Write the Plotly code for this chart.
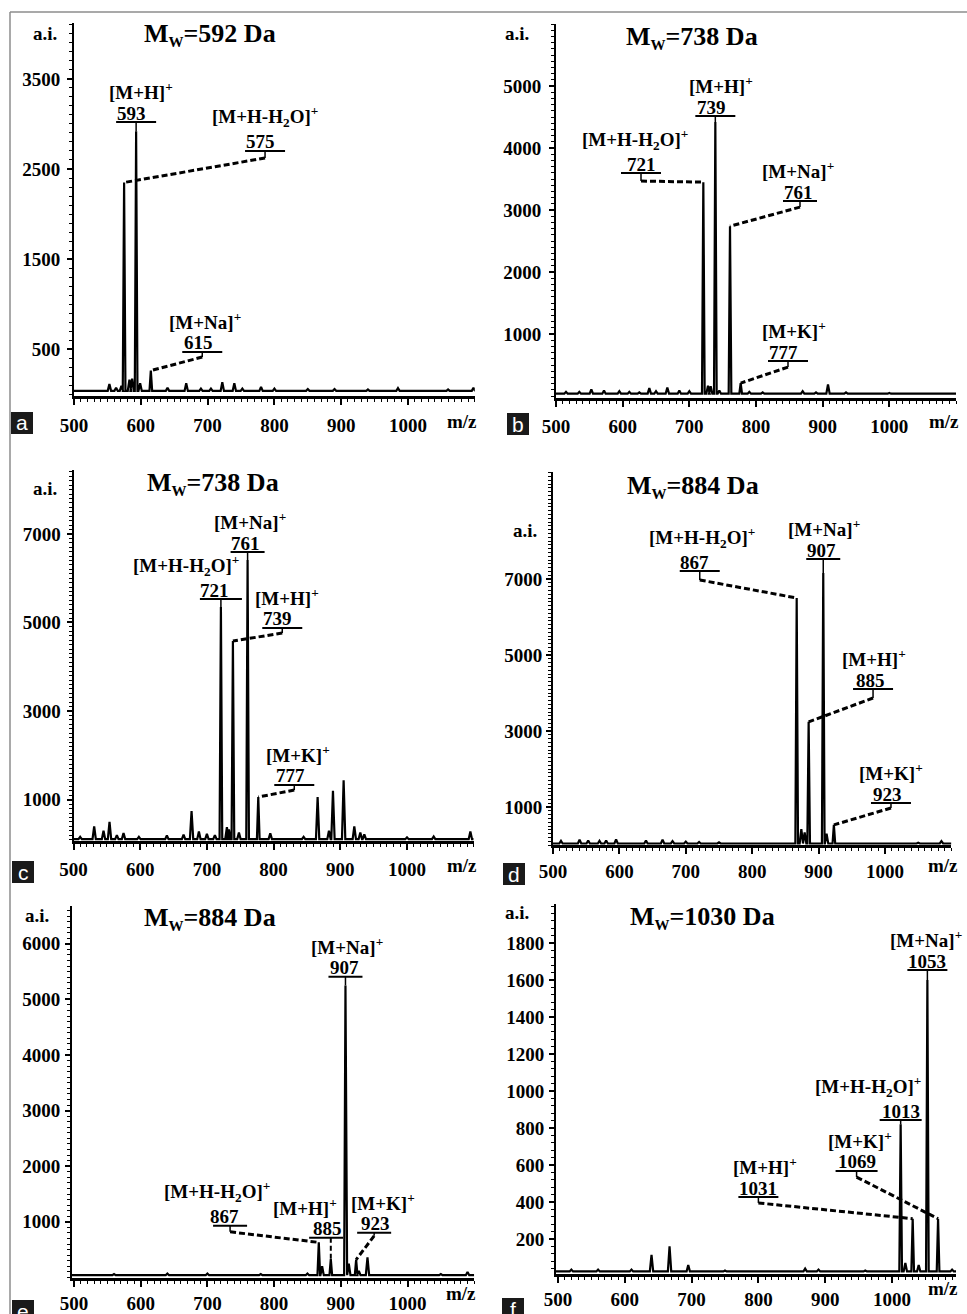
import plotly.graph_objects as go

FIG_W, FIG_H = 967, 1314
SERIF = "Liberation Serif"

# ---------------- data (m/z, intensity a.i.) ----------------
X_TICKS = [500, 600, 700, 800, 900, 1000]

# panel a  (Mw = 592 Da)
a_peak_mz = [575, 593, 615]
a_peak_int = [2350, 2920, 260]
a_noise_mz = [553, 563, 571, 583, 587, 599, 640, 668, 690, 705, 722, 740, 752, 780, 800, 850, 890, 940, 985, 1060, 1098]
a_noise_int = [110, 70, 90, 160, 170, 120, 70, 120, 60, 60, 130, 120, 60, 80, 60, 55, 55, 50, 65, 50, 70]
a_baseline = 35
a_yticks = [500, 1500, 2500, 3500]

# panel b  (Mw = 738 Da)
b_peak_mz = [721, 739, 761, 777]
b_peak_int = [3450, 4420, 2740, 210]
b_noise_mz = [515, 535, 553, 572, 595, 610, 625, 640, 650, 667, 685, 700, 728, 732, 745, 790, 810, 870, 890, 908, 935, 1000]
b_noise_int = [70, 70, 110, 90, 80, 70, 60, 130, 80, 140, 90, 80, 170, 160, 90, 70, 60, 80, 60, 190, 60, 50]
b_baseline = 40
b_yticks = [1000, 2000, 3000, 4000, 5000]

# panel c  (Mw = 738 Da)
c_peak_mz = [721, 739, 761, 777]
c_peak_int = [5350, 4580, 6410, 1060]
c_noise_mz = [510, 531, 545, 554, 565, 575, 598, 640, 665, 677, 688, 700, 712, 730, 733, 748, 795, 845, 866, 883, 889, 905, 921, 930, 936, 1000, 1040, 1095]
c_noise_int = [160, 400, 300, 500, 200, 250, 160, 190, 210, 745, 280, 230, 200, 380, 330, 260, 240, 160, 1060, 300, 1200, 1440, 400, 260, 220, 150, 170, 280]
c_baseline = 110
c_yticks = [1000, 3000, 5000, 7000]

# panel d  (Mw = 884 Da)
d_peak_mz = [867, 885, 907, 923]
d_peak_int = [6500, 3240, 7160, 530]
d_noise_mz = [512, 540, 553, 570, 580, 595, 640, 665, 680, 700, 720, 750, 874, 879, 912, 1050, 1085]
d_noise_int = [110, 140, 120, 110, 120, 150, 120, 140, 100, 90, 80, 70, 420, 330, 300, 60, 100]
d_baseline = 40
d_yticks = [1000, 3000, 5000, 7000]

# panel e  (Mw = 884 Da)
e_peak_mz = [867, 885, 907, 923]
e_peak_int = [630, 330, 5250, 320]
e_noise_mz = [560, 640, 700, 780, 850, 872, 912, 927, 940, 1050, 1090]
e_noise_int = [60, 70, 70, 60, 70, 200, 250, 120, 360, 60, 100]
e_baseline = 40
e_yticks = [1000, 2000, 3000, 4000, 5000, 6000]

# panel f  (Mw = 1030 Da)
f_peak_mz = [1013, 1031, 1053, 1069]
f_peak_int = [820, 310, 1600, 310]
f_noise_mz = [520, 560, 610, 640, 667, 695, 750, 870, 890, 960, 1020, 1040, 1090]
f_noise_int = [35, 35, 35, 115, 160, 60, 30, 40, 35, 30, 70, 60, 35]
f_baseline = 25
f_yticks = [200, 400, 600, 800, 1000, 1200, 1400, 1600, 1800]

ION_H = "[M+H]<sup>+</sup>"
ION_H2O = "[M+H-H<sub>2</sub>O]<sup>+</sup>"
ION_NA = "[M+Na]<sup>+</sup>"
ION_K = "[M+K]<sup>+</sup>"

panel_letters = ["a", "b", "c", "d", "e", "f"]
panel_mw = ["592", "738", "738", "884", "884", "1030"]

# ---------------- layout geometry (pixels) ----------------
GEOM = [
    dict(x0=74, x1=474.8, xr=[500, 1100], yb=396, yt=23, yr=[-22, 4122], ytk=a_yticks, ymin=100, xstand=4, ystand=3),
    dict(x0=556, x1=956, xr=[500, 1100], yb=398, yt=24, yr=[-30, 6000], ytk=b_yticks, ymin=100, xstand=3, ystand=4),
    dict(x0=73.5, x1=473.7, xr=[500, 1100], yb=841, yt=470, yr=[68, 8442], ytk=c_yticks, ymin=100, xstand=3, ystand=2),
    dict(x0=553, x1=951.4, xr=[500, 1100], yb=845, yt=472, yr=[0, 9816], ytk=d_yticks, ymin=100, xstand=1, ystand=0),
    dict(x0=72, x1=474.2, xr=[497, 1100], yb=1278, yt=906, yr=[-10, 6680], ytk=e_yticks, ymin=100, xstand=0, ystand=1),
    dict(x0=556, x1=956.1, xr=[497, 1096], yb=1274, yt=904, yr=[11, 2011], ytk=f_yticks, ymin=40, xstand=0, ystand=1),
]

SPECTRA = [
    (a_peak_mz, a_peak_int, a_noise_mz, a_noise_int, a_baseline),
    (b_peak_mz, b_peak_int, b_noise_mz, b_noise_int, b_baseline),
    (c_peak_mz, c_peak_int, c_noise_mz, c_noise_int, c_baseline),
    (d_peak_mz, d_peak_int, d_noise_mz, d_noise_int, d_baseline),
    (e_peak_mz, e_peak_int, e_noise_mz, e_noise_int, e_baseline),
    (f_peak_mz, f_peak_int, f_noise_mz, f_noise_int, f_baseline),
]

# label placement: (ion, peak index, line centre m/z, line level, tick end level, mode, half width px, ion dx, num dx)
LABELS = [
    [(ION_H, 1, 593, 3022, None, "direct", 20, 5, -5),
     (ION_H2O, 0, 786, 2700, 2622, "dash", 20, 0, -5),
     (ION_NA, 2, 692, 467, 411, "dash", 20, 3, -4)],
    [(ION_H, 1, 739, 4516, None, "direct", 20, 6, -4),
     (ION_H2O, 0, 627.5, 3597, 3468, "dash", 20, -6, 0),
     (ION_NA, 2, 866, 3145, 3048, "dash", 17, -2, -2),
     (ION_K, 3, 848, 565, 468, "dash", 20, 6, -5)],
    [(ION_NA, 2, 761, 6591, None, "direct", 17, 2, -2),
     (ION_H2O, 0, 721, 5530, None, "direct", 21, -35, -6),
     (ION_H, 1, 813, 4876, 4763, "dash", 20, 5, -5),
     (ION_K, 3, 831, 1332, 1219, "dash", 20, 4, -4)],
    [(ION_H2O, 0, 721, 7210, 6974, "dash", 20, 2, -5),
     (ION_NA, 2, 907, 7526, None, "direct", 17, 1, -2),
     (ION_H, 1, 982, 4105, 3868, "dash", 20, 1, -3),
     (ION_K, 3, 1009, 1105, 974, "dash", 20, 0, -3)],
    [(ION_NA, 2, 907, 5406, None, "direct", 17, 2, -1),
     (ION_H2O, 0, 734, 928, 820, "dash", 17, -13, -6),
     (ION_H, 1, 878, 712, None, "vdash", 17, -21, 1),
     (ION_K, 3, 950, 802, 748, "dash", 17, 9, 1)],
    [(ION_NA, 2, 1053, 1654, None, "direct", 20, -1, 0),
     (ION_H2O, 0, 1013, 843, None, "direct", 21, -33, 0),
     (ION_K, 3, 947, 568, 535, "dash", 21, 3, 0),
     (ION_H, 1, 800, 427, 395, "dash", 20, 7, 0)],
]

# text positions in pixels
AI_POS = [(45, 33), (517, 33), (45, 488), (525, 530), (37, 915), (517, 912)]
TITLE_POS = [(210, 35), (692, 37), (213, 483), (693, 487), (210, 918), (702, 917)]
MZ_POS = [(462, 421), (944, 421), (462, 865), (943, 865), (461, 1293), (943, 1288)]
BOX_POS = [(11, 412), (507, 413), (12, 861), (503, 863), (12, 1300), (502, 1298)]


def px(x):
    return x / FIG_W


def py(y):
    return 1 - y / FIG_H


def build_spectrum(pk_mz, pk_int, nz_mz, nz_int, base, lo, hi):
    pts = [(m, h, 2.0) for m, h in zip(pk_mz, pk_int)] + [(m, h, 2.5) for m, h in zip(nz_mz, nz_int)]
    pts.sort()
    xs, ys = [lo], [base]
    for m, h, w in pts:
        xs += [m - w, m, m + w]
        ys += [base, h, base]
    xs.append(hi)
    ys.append(base)
    return xs, ys


fig = go.Figure()
layout = {}
annotations = []
shapes = []
tickfont = dict(family=SERIF, size=19, color="black", weight="bold")
labfont = dict(family=SERIF, size=19, color="black", weight="bold")

for i, (g, spec) in enumerate(zip(GEOM, SPECTRA), start=1):
    sfx = "" if i == 1 else str(i)
    xa, ya = "x" + sfx, "y" + sfx
    xs, ys = build_spectrum(*spec, g["xr"][0], g["xr"][1])
    fig.add_trace(go.Scatter(x=xs, y=ys, mode="lines", line=dict(color="black", width=2.2),
                             xaxis=xa, yaxis=ya, hoverinfo="skip", showlegend=False))
    layout["xaxis" + sfx] = dict(
        domain=[px(g["x0"]), px(g["x1"])], range=g["xr"], anchor=ya, automargin=False,
        showline=True, linecolor="black", linewidth=2.5, showgrid=False, zeroline=False,
        tickmode="array", tickvals=X_TICKS, ticktext=[str(v) for v in X_TICKS],
        ticks="outside", ticklen=6, tickwidth=1.5, tickcolor="black",
        ticklabelstandoff=g["xstand"], tickfont=tickfont,
        minor=dict(tickmode="linear", tick0=0, dtick=10, ticks="outside", ticklen=3, tickwidth=1, tickcolor="black"),
    )
    layout["yaxis" + sfx] = dict(
        domain=[py(g["yb"]), py(g["yt"])], range=g["yr"], anchor=xa, automargin=False,
        showline=True, linecolor="black", linewidth=2, showgrid=False, zeroline=False,
        tickmode="array", tickvals=g["ytk"], ticktext=[str(v) for v in g["ytk"]],
        ticks="outside", ticklen=5, tickwidth=1.5, tickcolor="black",
        ticklabelstandoff=g["ystand"], tickfont=tickfont,
        minor=dict(tickmode="linear", tick0=0, dtick=g["ymin"], ticks="outside", ticklen=3, tickwidth=1, tickcolor="black"),
    )

    pk_mz, pk_int = spec[0], spec[1]
    for ion, k, xc, lv, tv, mode, hw, idx, ndx in LABELS[i - 1]:
        pm, ph = pk_mz[k], pk_int[k]
        shapes.append(dict(type="line", xref=xa, yref=ya, xsizemode="pixel", xanchor=xc,
                           x0=-hw, x1=hw, y0=lv, y1=lv, line=dict(color="black", width=2)))
        if mode == "direct":
            shapes.append(dict(type="line", xref=xa, yref=ya, x0=pm, x1=pm, y0=lv, y1=ph,
                               line=dict(color="black", width=1.5)))
        elif mode == "dash":
            shapes.append(dict(type="line", xref=xa, yref=ya, x0=xc, x1=xc, y0=lv, y1=tv,
                               line=dict(color="black", width=1.5)))
            shapes.append(dict(type="line", xref=xa, yref=ya, x0=xc, x1=pm, y0=tv, y1=ph,
                               line=dict(color="black", width=3, dash="6px,3px")))
        else:
            shapes.append(dict(type="line", xref=xa, yref=ya, x0=pm, x1=pm, y0=lv, y1=ph,
                               line=dict(color="black", width=2, dash="5px,3px")))
        ion_dy = 34 if ion == ION_H2O else 31
        annotations.append(dict(x=xc, y=lv, xref=xa, yref=ya, text=str(pm), showarrow=False,
                                xanchor="center", yanchor="middle", xshift=ndx, yshift=9, font=labfont))
        annotations.append(dict(x=xc, y=lv, xref=xa, yref=ya, text=ion, showarrow=False,
                                xanchor="center", yanchor="middle", xshift=idx, yshift=ion_dy, font=labfont))

for i in range(6):
    ax, ay = AI_POS[i]
    annotations.append(dict(x=px(ax), y=py(ay), xref="paper", yref="paper", text="a.i.", showarrow=False,
                            xanchor="center", yanchor="middle", font=labfont))
    tx, ty = TITLE_POS[i]
    annotations.append(dict(x=px(tx), y=py(ty), xref="paper", yref="paper",
                            text="M<sub><span style='font-size:15px'>W</span></sub>=" + panel_mw[i] + " Da",
                            showarrow=False, xanchor="center", yanchor="middle",
                            font=dict(family=SERIF, size=26, color="black", weight="bold")))
    mx, my = MZ_POS[i]
    annotations.append(dict(x=px(mx), y=py(my), xref="paper", yref="paper", text="m/z", showarrow=False,
                            xanchor="center", yanchor="middle", font=labfont))
    bx, by = BOX_POS[i]
    shapes.append(dict(type="rect", xref="paper", yref="paper", x0=px(bx), x1=px(bx + 22),
                       y0=py(by + 22), y1=py(by), fillcolor="#1a1a1a", line=dict(width=0)))
    annotations.append(dict(x=px(bx + 11), y=py(by + 11), xref="paper", yref="paper", text=panel_letters[i],
                            showarrow=False, xanchor="center", yanchor="middle",
                            font=dict(family="Liberation Sans", size=21, color="white")))

shapes.append(dict(type="line", xref="paper", yref="paper", x0=px(10), x1=1, y0=py(12), y1=py(12),
                   line=dict(color="#8c8c8c", width=1.5)))
shapes.append(dict(type="line", xref="paper", yref="paper", x0=px(10), x1=px(10), y0=py(12), y1=0,
                   line=dict(color="#8c8c8c", width=1.5)))

fig.update_layout(
    width=FIG_W, height=FIG_H, margin=dict(l=0, r=0, t=0, b=0, pad=0, autoexpand=False),
    paper_bgcolor="white", plot_bgcolor="white", showlegend=False,
    annotations=annotations, shapes=shapes, **layout,
)

fig.write_html("out.html", config={"displayModeBar": False},
               post_script="document.body.style.margin='0px';document.body.style.overflow='hidden';")
